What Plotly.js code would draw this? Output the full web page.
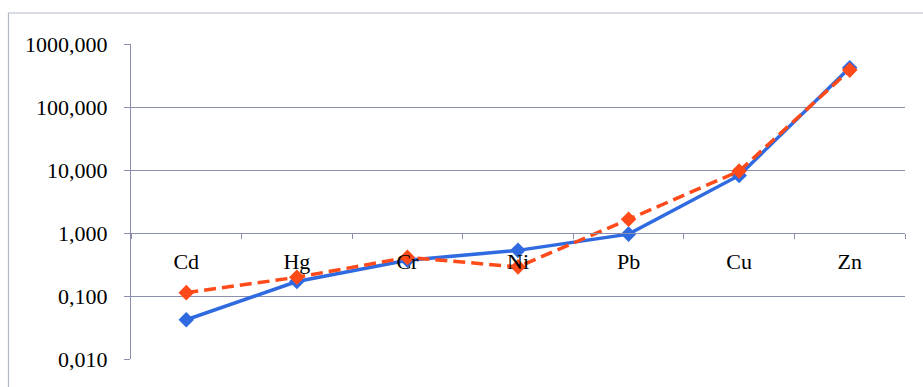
<!DOCTYPE html>
<html>
<head>
<meta charset="utf-8">
<script src="https://cdn.plot.ly/plotly-3.0.1.min.js"></script>
<style>html,body{margin:0;padding:0;background:#fff;}#chart{width:923px;height:387px;}</style>
</head>
<body>
<div id="chart"></div>
<script>
const categories = ["Cd", "Hg", "Cr", "Ni", "Pb", "Cu", "Zn"];
const seriesA = [0.042, 0.17, 0.37, 0.53, 0.96, 8.2, 420];
const seriesB = [0.113, 0.198, 0.41, 0.29, 1.65, 9.6, 385];
const yTickVals = [0.01, 0.1, 1, 10, 100, 1000];
const yTickText = ["0,010", "0,100", "1,000", "10,000", "100,000", "1000,000"];

const gridCol = "#8a8fae";
const traces = [
  {
    x: categories, y: seriesA, type: "scatter", mode: "lines+markers", name: "A",
    line: {color: "#2f6ae0", width: 3.5},
    marker: {symbol: "diamond", size: 12, color: "#2f6ae0"}
  },
  {
    x: categories, y: seriesB, type: "scatter", mode: "lines+markers", name: "B",
    line: {color: "#ff4a1a", width: 3.5, dash: "12px,6px"},
    marker: {symbol: "diamond", size: 12, color: "#ff4a1a"}
  }
];

const layout = {
  width: 923, height: 387,
  margin: {l: 131, r: 18, t: 44, b: 28},
  paper_bgcolor: "#ffffff", plot_bgcolor: "#ffffff",
  showlegend: false,
  font: {family: "Liberation Serif", size: 22, color: "#000"},
  xaxis: {
    type: "category", range: [-0.5, 6.5],
    anchor: "free", position: 0.4,
    showline: true, linecolor: gridCol, linewidth: 1,
    ticks: "outside", ticklen: 5, tickcolor: gridCol, tickson: "boundaries",
    showgrid: false, zeroline: false,
    ticklabelstandoff: 9,
    tickfont: {family: "Liberation Serif", size: 22, color: "#000"}
  },
  yaxis: {
    type: "log", range: [-2, 3],
    tickvals: yTickVals, ticktext: yTickText,
    showline: true, linecolor: gridCol, linewidth: 1,
    ticks: "outside", ticklen: 6, tickcolor: gridCol,
    showgrid: true, gridcolor: gridCol, gridwidth: 1,
    zeroline: false,
    ticklabelstandoff: 12,
    tickfont: {family: "Liberation Serif", size: 22, color: "#000"}
  },
  shapes: [
    {type: "rect", xref: "paper", yref: "paper",
     x0: -0.1583, x1: 1.2, y0: -0.3, y1: 1.0984,
     line: {color: "#b4b8cc", width: 1.2}, fillcolor: "rgba(0,0,0,0)", layer: "below"}
  ]
};

Plotly.newPlot("chart", traces, layout, {displayModeBar: false, staticPlot: true});
</script>
</body>
</html>
